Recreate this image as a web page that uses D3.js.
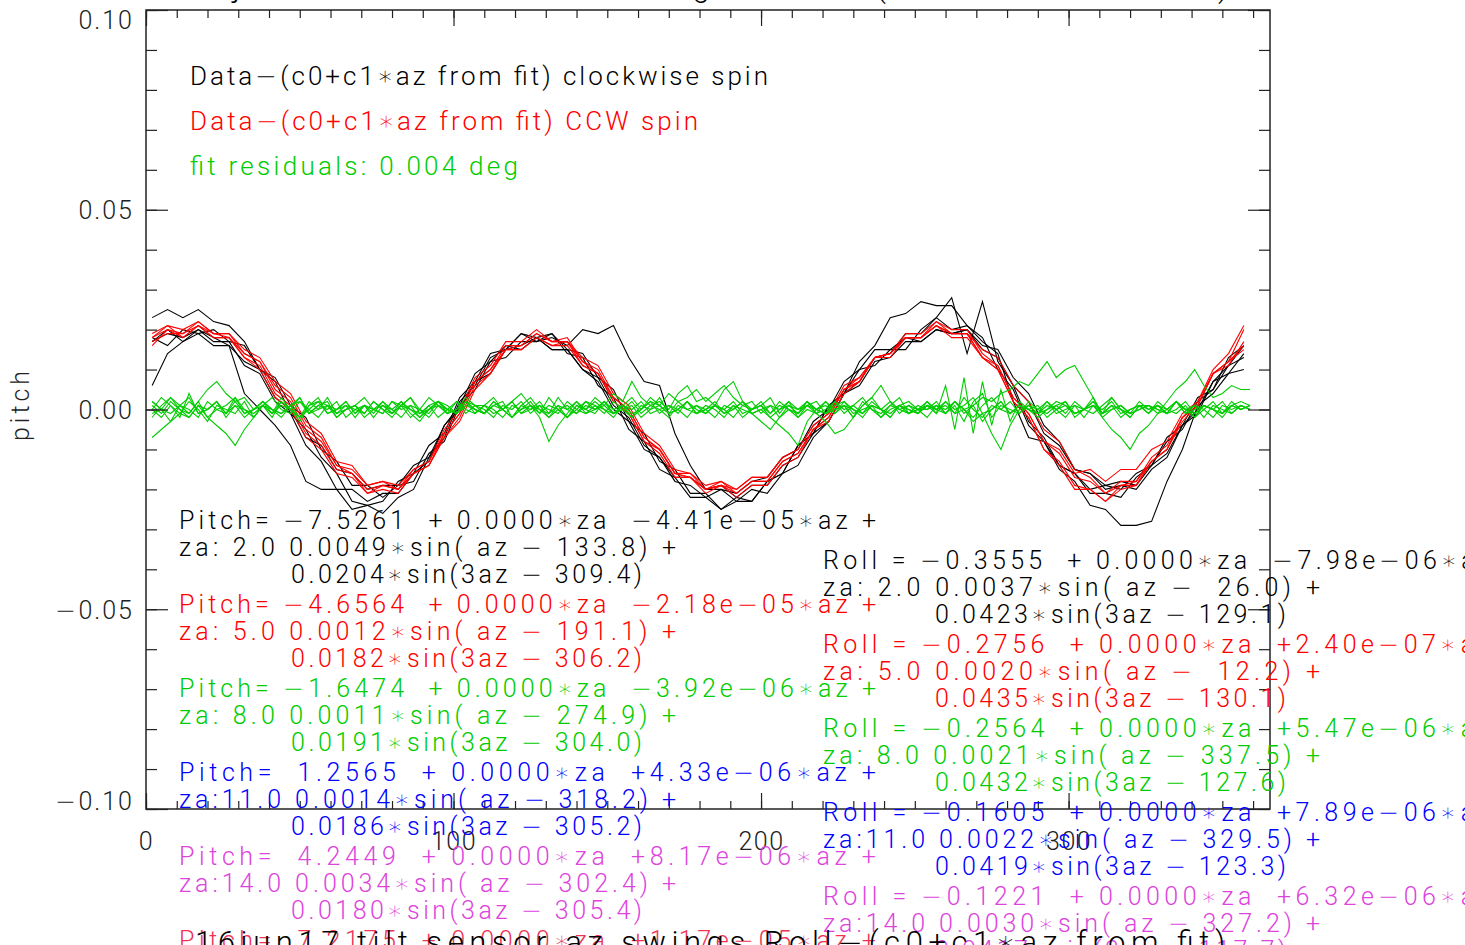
<!DOCTYPE html>
<html>
<head>
<meta charset="utf-8">
<script src="https://cdn.jsdelivr.net/npm/d3@7"></script>
<style>
  @font-face {
    font-family: "OpSym";
    src: local("DejaVu Sans ExtraLight"), local("DejaVuSans-ExtraLight"), local("DejaVu Sans"), local("DejaVuSans");
    unicode-range: U+2212, U+2217;
  }
  html, body { margin: 0; padding: 0; background: #fff; overflow: hidden; }
  svg text { font-family: OpSym, Roboto, "DejaVu Sans", sans-serif; font-weight: 300; white-space: pre; }
</style>
</head>
<body>
<div id="chart"></div>
<script>
// page + plot box
const width = 1465;
const height = 945;
const box = {left: 146, right: 1270, top: 10, bottom: 809};

// azimuth of each data sample (deg)
const az = [2,7,12,17,22,27,32,37,42,47,52,57,
  62,67,72,77,82,87,92,97,102,107,112,117,
  122,127,132,137,142,147,152,157,162,167,172,177,
  182,187,192,197,202,207,212,217,222,227,232,237,
  242,247,252,257,262,267,272,277,282,287,292,297,
  302,307,312,317,322,327,332,337,342,347,352,357];

// azimuth of each residual sample (deg)
const azRes = [2,5,8,11,14,17,20,23,26,29,32,35,
  38,41,44,47,50,53,56,59,62,65,68,71,
  74,77,80,83,86,89,92,95,98,101,104,107,
  110,113,116,119,122,125,128,131,134,137,140,143,
  146,149,152,155,158,161,164,167,170,173,176,179,
  182,185,188,191,194,197,200,203,206,209,212,215,
  218,221,224,227,230,233,236,239,242,245,248,251,
  254,257,260,263,266,269,272,275,278,281,284,287,
  290,293,296,299,302,305,308,311,314,317,320,323,
  326,329,332,335,338,341,344,347,350,353,356,359];

// pitch - (c0+c1*az), in 0.001 deg, clockwise spin (black)
const cwSeries = [
  [23,25,23,25,22,21,17,10,7,-1,-5,-12, -16,-23,-24,-26,-22,-20,-12,-7,2,6,13,15,
   19,18,19,15,14,8,5,-3,-6,-13,-15,-21, -21,-25,-23,-23,-18,-16,-9,-6,1,4,12,16,
   23,24,27,26,26,21,18,10,5,-4,-8,-15, -18,-24,-25,-29,-29,-28,-18,-10,1,4,9,10],
  [6,14,17,20,18,16,4,0,-4,-9,-18,-20, -20,-25,-24,-23,-18,-16,-9,-6,3,7,14,15,
   19,17,18,16,20,19,21,13,7,6,-6,-14, -20,-20,-23,-20,-21,-16,-14,-7,-3,4,6,12,
   13,17,17,20,19,20,15,13,6,2,-6,-9, -15,-16,-19,-18,-19,-14,-11,-4,-1,7,11,16],
  [17,19,18,20,17,17,11,9,2,-1,-9,-13, -20,-20,-23,-21,-21,-16,-13,-4,1,9,12,16,
   15,18,15,15,10,8,1,-2,-9,-12,-18,-19, -22,-20,-21,-18,-17,-12,-10,-3,0,7,10,15,
   15,18,17,20,19,20,16,15,8,4,-4,-8, -15,-16,-20,-19,-20,-15,-12,-4,0,7,9,14],
  [18,16,20,19,20,17,16,10,8,1,-2,-10, -13,-19,-19,-22,-19,-18,-11,-8,1,5,12,13,
   17,17,19,14,13,6,3,-5,-8,-15,-17,-22, -22,-25,-22,-23,-18,-16,-9,-6,1,4,10,11,
   15,15,20,23,28,14,27,12,6,-3,-7,-14, -16,-20,-19,-20,-16,-14,-8,-5,2,5,13,16],
  [17,20,17,19,16,16,12,10,3,0,-7,-9, -15,-16,-20,-19,-19,-14,-12,-4,0,7,9,15,
   16,18,15,15,10,7,0,-3,-10,-12,-17,-17, -20,-19,-22,-19,-19,-14,-12,-6,-3,4,7,13,
   14,19,19,23,20,21,17,14,2,-7,-8,-14, -16,-21,-21,-22,-17,-14,-7,-4,3,5,11,13]
];

// pitch - (c0+c1*az), in 0.001 deg, CCW spin (red)
const ccwSeries = [
  [18,21,20,22,19,19,14,12,5,2,-5,-8, -14,-16,-20,-19,-20,-15,-13,-6,-1,7,10,16,
   16,19,17,17,12,10,3,0,-7,-10,-16,-17, -20,-19,-21,-18,-18,-13,-11,-5,-2,5,7,13,
   14,18,18,21,19,19,13,10,2,-2,-10,-13, -19,-20,-23,-19,-18,-12,-9,-2,2,10,14,21],
  [16,20,19,21,18,18,13,10,3,0,-7,-10, -16,-17,-21,-20,-21,-16,-14,-6,-1,7,10,15,
   15,18,16,17,13,11,4,1,-6,-9,-15,-16, -20,-19,-20,-17,-17,-12,-10,-4,-1,6,8,13,
   13,18,18,22,20,20,14,11,3,-1,-8,-10, -16,-15,-18,-15,-15,-10,-8,-1,2,9,12,16],
  [19,21,18,21,19,19,15,13,7,4,-3,-6, -13,-14,-19,-18,-19,-15,-13,-5,0,8,11,17,
   17,20,17,18,12,9,2,-1,-8,-10,-16,-16, -19,-18,-20,-17,-17,-12,-10,-4,-1,5,8,13,
   14,19,19,22,19,19,13,10,2,-2,-10,-14, -20,-20,-23,-20,-19,-13,-10,-2,1,9,12,15],
  [17,19,19,22,19,18,13,11,4,1,-6,-9, -15,-16,-21,-19,-20,-16,-14,-7,-2,6,9,15,
   16,19,17,17,11,9,2,-1,-8,-11,-17,-17, -21,-19,-22,-19,-19,-14,-12,-5,-2,5,7,13,
   14,18,18,21,18,18,13,11,3,-1,-8,-11, -17,-18,-21,-18,-18,-13,-10,-2,1,9,11,17],
  [18,20,18,21,18,18,14,12,6,3,-4,-7, -14,-15,-19,-18,-20,-16,-14,-7,-3,5,9,15,
   15,18,16,16,11,9,3,0,-7,-10,-16,-17, -20,-18,-21,-18,-18,-13,-11,-5,-3,4,7,13,
   14,18,18,21,19,19,15,13,6,2,-5,-8, -15,-17,-21,-19,-19,-13,-10,-3,1,9,12,20]
];

// fit residuals, in 0.001 deg (green)
const residualSeries = [
  [-7,-5,-3,-1,-2,1,-2,-4,-6,-9,-5,-2, 1,-1,2,0,-2,1,3,-1,0,2,-1,1,
   -2,1,0,2,-1,-3,0,2,1,-1,2,0, -1,2,0,-2,1,3,0,-1,1,-2,0,2,
   1,-1,2,0,-2,1,0,3,-1,0,2,-1, 0,2,-1,1,-2,0,1,-1,2,0,-2,1,
   2,-1,0,1,-2,2,0,-1,1,3,-1,0, -2,1,0,2,-1,1,-3,0,2,-1,1,0,
   1,-2,0,2,-1,0,3,-1,1,-2,0,1, -1,2,0,-1,1,-2,0,2,-1,1,0,1],
  [2,0,3,1,-1,2,5,7,4,2,3,0, 1,-2,2,0,3,-1,1,2,-2,0,1,3,
   0,-1,2,1,-2,0,3,1,-1,2,0,-1, 1,3,0,2,4,1,-2,-8,-4,-1,2,0,
   3,1,4,2,7,3,1,2,0,4,6,2, 3,1,5,7,2,0,1,3,-1,2,0,1,
   -1,2,0,1,-2,1,3,0,-1,1,2,0, 1,-1,2,0,1,3,-1,0,2,-1,1,0,
   -2,0,1,-1,2,0,-1,1,3,0,-1,2, 0,1,-1,2,0,-2,1,0,2,-1,1,0],
  [0,-2,1,-1,2,0,-3,1,0,-1,2,-2, 1,0,-2,1,2,-1,0,1,-2,0,1,-1,
   2,0,-1,1,0,-2,1,2,0,-1,1,0, -1,1,0,2,-1,0,1,-2,0,1,-1,2,
   0,1,-1,0,2,-1,1,0,-2,1,0,-1, 1,0,-2,1,0,-1,-3,-5,-2,0,-1,1,
   0,2,-1,1,0,-2,1,0,2,-1,1,0, 0,1,-1,2,0,1,3,2,4,5,7,6,
   9,12,8,10,11,7,3,-2,-5,-7,-10,-6, -4,-1,2,5,7,10,6,3,4,6,5,5],
  [1,-1,2,0,-2,1,0,2,-1,1,-2,0, 2,0,-1,1,-2,0,2,1,-1,0,1,-2,
   0,1,-1,2,0,-1,1,-2,0,2,-1,1, 0,-2,1,0,2,-1,1,0,-1,2,0,-1,
   1,0,-2,1,0,2,-1,0,1,-1,2,0, -1,1,0,-2,1,0,2,-1,1,0,-1,2,
   0,-1,1,2,-1,0,1,-2,0,1,-1,0, 2,-1,6,-5,8,-6,7,-4,5,-3,2,0,
   -1,1,0,-2,1,0,2,-1,0,1,-1,0, 1,0,-1,2,0,-1,1,0,-2,1,0,1],
  [2,0,-1,1,3,-1,0,2,-2,1,0,-1, 1,3,0,-1,2,0,-2,1,0,2,-1,1,
   0,-1,2,0,1,-2,0,1,-1,0,2,-1, 1,0,-2,1,0,2,-1,1,0,-2,1,0,
   -1,2,0,1,-1,0,2,-1,1,0,-2,1, 0,1,-1,0,2,-1,0,-2,-4,-6,-9,-3,
   0,1,-1,2,0,-1,1,0,-2,1,0,-1, 1,0,2,-1,0,-3,-1,-6,-10,-4,0,1,
   -1,0,2,1,-1,0,1,-2,0,1,-1,0, 1,-1,0,2,-1,0,1,0,-1,2,0,1],
  [-2,1,3,0,-1,2,-2,0,1,3,-1,0, 2,-1,1,0,-3,1,2,-1,0,1,-2,1,
   0,2,-1,1,3,0,-2,1,0,-1,2,0, -1,1,2,-2,0,1,-1,3,0,-2,1,0,
   2,0,-1,1,-2,0,3,1,-1,0,2,-1, 0,-2,1,0,2,-1,0,1,-2,1,0,2,
   -1,0,2,-1,1,3,0,-2,1,0,-1,1, 0,2,-1,1,-3,2,4,-2,1,0,-1,2,
   0,-1,1,2,-2,0,1,-1,3,0,-2,1, 1,0,-1,2,0,1,-2,1,0,-1,1,0],
  [0,3,1,-2,4,-1,0,2,-1,3,0,-2, 1,-1,3,0,-2,2,0,3,-1,1,0,-1,
   2,0,-2,1,3,-1,0,2,-1,0,3,1, -1,2,0,-2,1,0,2,-1,3,0,-1,1,
   0,2,-1,1,3,0,2,1,4,2,3,5, 2,4,6,3,1,2,-1,1,0,2,-2,0,
   -1,-3,-6,-5,-2,1,3,6,2,0,1,-1, 2,0,1,-1,3,0,-2,1,0,2,-1,1,
   0,2,-1,0,1,-2,1,0,2,-1,0,1, -1,1,0,2,-1,1,0,-2,1,0,1,0],
  [-1,0,-3,1,0,-2,2,0,-1,2,-1,0, 2,0,-1,1,3,-1,1,0,2,-2,0,1,
   -1,2,0,-2,1,0,-1,2,0,-1,2,1, 1,-1,0,2,-1,1,0,-2,1,0,2,-1,
   0,2,-1,0,1,-2,0,1,-1,2,0,1, -1,1,0,2,-1,0,1,-2,0,1,-1,2,
   0,-1,2,0,1,-1,2,0,-2,1,0,-1, 1,0,-1,2,0,-2,1,3,0,-1,1,0,
   -1,2,0,1,-1,0,2,-1,1,0,-2,1, 0,1,-1,0,2,-1,1,0,-1,1,2,1]
];

// axis ticks
const xMajor = [0, 100, 200, 300];
const yMajor = [-100, -50, 0, 50, 100];

// texts
const legendLines = [
  "Data−(c0+c1∗az from fit) clockwise spin",
  "Data−(c0+c1∗az from fit) CCW spin",
  "fit residuals: 0.004 deg"
];
const legendColors = ["#000000", "#ff0000", "#00cc00"];
const legendWidths = [578, 508, 328];

const zaColors = ["#000000", "#ff0000", "#00cc00", "#0000ff", "#dd44dd", "#ee3355"];

const pitchText = [
  ["Pitch= −7.5261  + 0.0000∗za  −4.41e−05∗az +", "za: 2.0 0.0049∗sin( az − 133.8) +", "0.0204∗sin(3az − 309.4)"],
  ["Pitch= −4.6564  + 0.0000∗za  −2.18e−05∗az +", "za: 5.0 0.0012∗sin( az − 191.1) +", "0.0182∗sin(3az − 306.2)"],
  ["Pitch= −1.6474  + 0.0000∗za  −3.92e−06∗az +", "za: 8.0 0.0011∗sin( az − 274.9) +", "0.0191∗sin(3az − 304.0)"],
  ["Pitch=  1.2565  + 0.0000∗za  +4.33e−06∗az +", "za:11.0 0.0014∗sin( az − 318.2) +", "0.0186∗sin(3az − 305.2)"],
  ["Pitch=  4.2449  + 0.0000∗za  +8.17e−06∗az +", "za:14.0 0.0034∗sin( az − 302.4) +", "0.0180∗sin(3az − 305.4)"],
  ["Pitch=  7.2175  + 0.0000∗za  +1.17e−05∗az +", "", ""]
];
const rollText = [
  ["Roll = −0.3555  + 0.0000∗za  −7.98e−06∗az +", "za: 2.0 0.0037∗sin( az −  26.0) +", "0.0423∗sin(3az − 129.1)"],
  ["Roll = −0.2756  + 0.0000∗za  +2.40e−07∗az +", "za: 5.0 0.0020∗sin( az −  12.2) +", "0.0435∗sin(3az − 130.1)"],
  ["Roll = −0.2564  + 0.0000∗za  +5.47e−06∗az +", "za: 8.0 0.0021∗sin( az − 337.5) +", "0.0432∗sin(3az − 127.6)"],
  ["Roll = −0.1605  + 0.0000∗za  +7.89e−06∗az +", "za:11.0 0.0022∗sin( az − 329.5) +", "0.0419∗sin(3az − 123.3)"],
  ["Roll = −0.1221  + 0.0000∗za  +6.32e−06∗az +", "za:14.0 0.0030∗sin( az − 327.2) +", "0.0417∗sin(3az − 117.7)"]
];
const lineWidths = [697, 497, 351];

const topTitle = "16jun17 tilt sensor az swings Pitch−(c0+c1∗az from fit)";
const bottomTitle = "16jun17 tilt sensor az swings Roll−(c0+c1∗az from fit)";

const svg = d3.select("#chart").append("svg")
  .attr("width", width)
  .attr("height", height);

// scales
const x = d3.scaleLinear().domain([0, 365.5]).range([box.left, box.right]);
const y = d3.scaleLinear().domain([-100, 100]).range([box.bottom, box.top]);

// curves: black, red, then green on top
const groups = [
  {series: cwSeries, xs: az, color: "#000000"},
  {series: ccwSeries, xs: az, color: "#ff0000"},
  {series: residualSeries, xs: azRes, color: "#00cc00"}
];
groups.forEach(grp => {
  const line = d3.line()
    .x((d, i) => x(grp.xs[i]))
    .y(d => y(d));
  svg.append("g").selectAll("path")
    .data(grp.series)
    .enter()
    .append("path")
      .attr("d", line)
      .attr("fill", "none")
      .attr("stroke", grp.color)
      .attr("stroke-width", 1.1);
});

// frame
svg.append("rect")
  .attr("x", box.left).attr("y", box.top)
  .attr("width", box.right - box.left).attr("height", box.bottom - box.top)
  .attr("fill", "none").attr("stroke", "#222").attr("stroke-width", 1.5);

// tick marks, all pointing in
function tickMarks(axisFn, scale, vals, size, transform) {
  svg.append("g")
    .attr("transform", transform)
    .call(axisFn(scale).tickValues(vals).tickSize(size).tickFormat(""))
    .call(g => g.select(".domain").remove())
    .selectAll("line").attr("stroke", "#222").attr("stroke-width", 1.2);
}
const xMinor = d3.range(0, 361, 10);
const yMinor = d3.range(-100, 101, 10);
tickMarks(d3.axisTop, x, xMinor, 8, `translate(0,${box.bottom})`);
tickMarks(d3.axisTop, x, xMajor, 16, `translate(0,${box.bottom})`);
tickMarks(d3.axisBottom, x, xMinor, 8, `translate(0,${box.top})`);
tickMarks(d3.axisBottom, x, xMajor, 16, `translate(0,${box.top})`);
tickMarks(d3.axisRight, y, yMinor, 11, `translate(${box.left},0)`);
tickMarks(d3.axisRight, y, yMajor, 22, `translate(${box.left},0)`);
tickMarks(d3.axisLeft, y, yMinor, 11, `translate(${box.right},0)`);
tickMarks(d3.axisLeft, y, yMajor, 22, `translate(${box.right},0)`);

// tick labels
svg.append("g")
  .attr("transform", `translate(0,${box.bottom})`)
  .call(d3.axisBottom(x).tickValues(xMajor).tickSize(0).tickFormat(d3.format("d")))
  .call(g => g.select(".domain").remove())
  .selectAll("text")
    .attr("y", 41).attr("dy", 0)
    .attr("font-size", 25).attr("letter-spacing", 1.5)
    .attr("fill", "#222");

svg.append("g")
  .attr("transform", `translate(${box.left},0)`)
  .call(d3.axisLeft(y).tickValues(yMajor).tickSize(0).tickPadding(12)
    .tickFormat(d => d3.format(".2f")(d / 1000)))
  .call(g => g.select(".domain").remove())
  .selectAll("text")
    .attr("font-size", 25).attr("letter-spacing", 2)
    .attr("fill", "#222")
    .attr("dy", d => d === 100 ? "0.75em" : d === -100 ? "0.0em" : "0.36em");

// y title
svg.append("text")
  .attr("transform", "translate(29,406) rotate(-90)")
  .attr("text-anchor", "middle")
  .attr("font-size", 25)
  .attr("textLength", 70)
  .attr("fill", "#222")
  .text("pitch");

// legend
svg.append("g").selectAll("text")
  .data(legendLines)
  .enter()
  .append("text")
    .attr("x", 190)
    .attr("y", (d, i) => 85 + i * 45)
    .attr("font-size", 26)
    .attr("textLength", (d, i) => legendWidths[i])
    .attr("lengthAdjust", "spacing")
    .attr("fill", (d, i) => legendColors[i])
    .text(d => d);

// fit text blocks
function fitBlock(rows, x0, y0) {
  rows.forEach((rowLines, k) => {
    rowLines.forEach((t, j) => {
      if (!t) return;
      svg.append("text")
        .attr("x", j === 2 ? x0 + 112 : x0)
        .attr("y", y0 + k * 84 + j * 27)
        .attr("font-size", 25)
        .attr("textLength", lineWidths[j])
        .attr("lengthAdjust", "spacing")
        .attr("fill", zaColors[k])
        .text(t);
    });
  });
}
fitBlock(pitchText, 179, 529);
fitBlock(rollText, 823, 569);

// titles (this panel's, cut off at top; next panel's, at bottom)
svg.append("text")
  .attr("x", 188).attr("y", -3)
  .attr("font-size", 31)
  .attr("textLength", 1040).attr("lengthAdjust", "spacing")
  .attr("fill", "#000")
  .text(topTitle);
svg.append("text")
  .attr("x", 195).attr("y", 953)
  .attr("font-size", 31)
  .attr("textLength", 1030).attr("lengthAdjust", "spacing")
  .attr("fill", "#000")
  .text(bottomTitle);
</script>
</body>
</html>
